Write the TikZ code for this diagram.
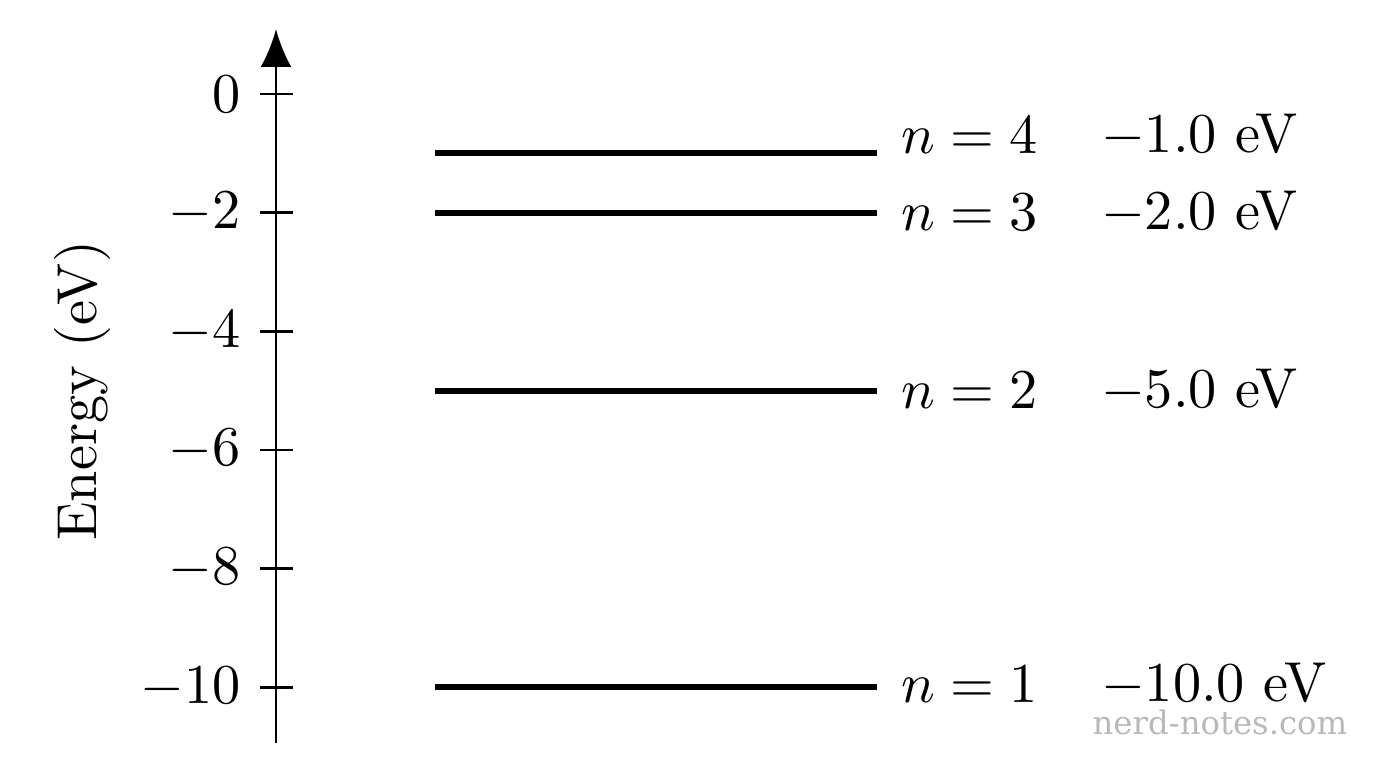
\RequirePackage{fix-cm}
\documentclass[tikz,border=0pt]{standalone}
\usepackage{fontspec}
\newfontfamily\wmfont{DejaVu Serif}
\usetikzlibrary{arrows.meta}
\tikzset{
  axisline/.style={line width=0.8pt},
  tickmark/.style={line width=0.8pt},
  energylevel/.style={line width=1.7pt},
  lbl/.style={scale=1.6, inner sep=1.25pt},
}
\begin{document}
\begin{tikzpicture}[x=0.01cm,y=0.593cm]
\useasboundingbox (0,1.585) rectangle (1376,-11.366);

% Energy axis
\coordinate (bot) at (276,-10.944);
\coordinate (top) at (276,1.096);
\draw[axisline,-{Latex[length=10.8pt,width=8.8pt]}] (bot) -- (top);

% Ticks and their values
\foreach \t [count=\i] in {0,-2,-4,-6,-8,-10}{
  \coordinate (tl\i) at (260,\t);
  \coordinate (tr\i) at (293,\t);
  \draw[tickmark] (tl\i) -- (tr\i);
  \node[lbl,anchor=east] (tv\i) at (249,\t) {$\t$};
}

% Energy levels with labels
\foreach \n/\E/\Y/\val in {4/-1/-0.7/-1.0, 3/-2/-2/-2.0, 2/-5/-5/-5.0, 1/-10/-9.95/-10.0}{
  \coordinate (la\n) at (435,\E);
  \coordinate (lb\n) at (877,\E);
  \draw[energylevel] (la\n) -- (lb\n);
  \node[lbl,anchor=west] (n\n) at (893,\Y) {$n=\n$};
  \node[lbl,anchor=west] (e\n) at (1093,\Y) {$\val$ eV};
}

% Axis title
\node[lbl,rotate=90] (ylab) at (82,-5) {Energy (eV)};

% Watermark
\node[font=\wmfont\fontsize{9.2}{11}\selectfont,text=gray!55] (wm) at (1220,-10.59) {nerd-notes.com};
\end{tikzpicture}
\end{document}
